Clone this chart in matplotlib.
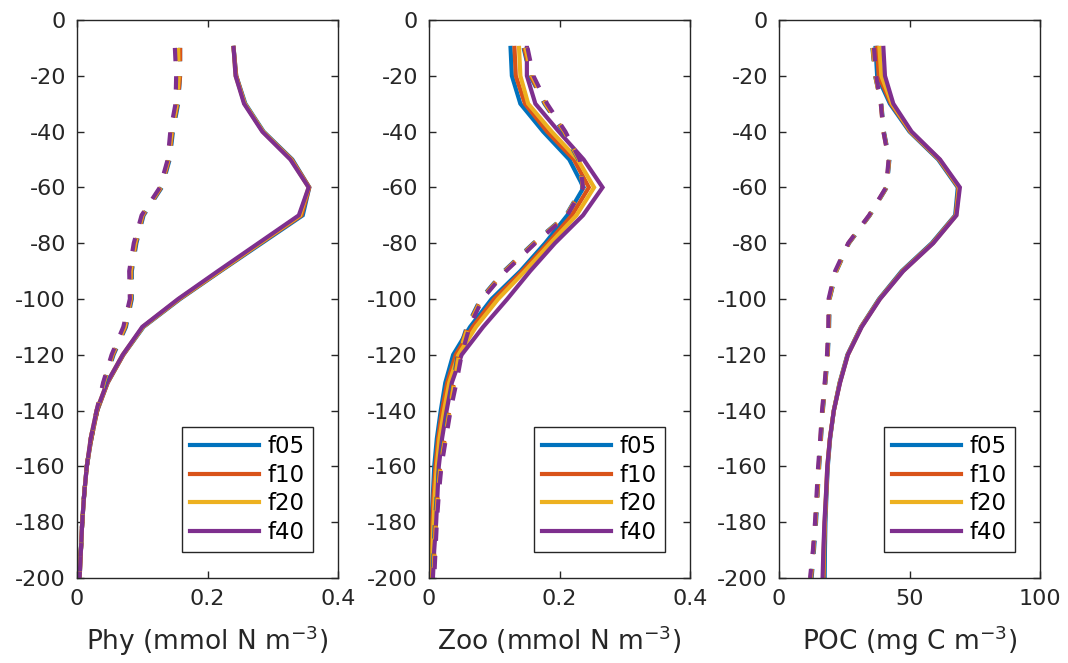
import matplotlib
matplotlib.use('Agg')
import matplotlib.pyplot as plt

plt.rcParams['font.family'] = ['DejaVu Sans']
plt.rcParams['axes.unicode_minus'] = False

depth = [-10, -20, -30, -40, -50, -60, -70, -80, -90, -100,
         -110, -120, -130, -140, -150, -160, -170, -180, -190, -200]
runs = ['f05', 'f10', 'f20', 'f40']
colors = ['#0072BD', '#D95319', '#EDB120', '#7E2F8E']

# Phy, solid
phy_f05 = [0.240, 0.244, 0.258, 0.286, 0.330, 0.356, 0.346, 0.283, 0.220, 0.158,
           0.102, 0.071, 0.047, 0.031, 0.022, 0.015, 0.011, 0.008, 0.006, 0.004]
phy_f10 = [0.240, 0.244, 0.257, 0.285, 0.329, 0.356, 0.344, 0.281, 0.219, 0.157,
           0.101, 0.071, 0.047, 0.031, 0.022, 0.015, 0.011, 0.008, 0.006, 0.004]
phy_f20 = [0.240, 0.243, 0.257, 0.285, 0.328, 0.355, 0.342, 0.280, 0.218, 0.156,
           0.101, 0.070, 0.046, 0.030, 0.021, 0.015, 0.011, 0.008, 0.006, 0.004]
phy_f40 = [0.240, 0.243, 0.256, 0.284, 0.327, 0.355, 0.340, 0.278, 0.216, 0.155,
           0.100, 0.070, 0.046, 0.030, 0.021, 0.015, 0.011, 0.008, 0.006, 0.004]
# Phy, dashed
phyd_f05 = [0.158, 0.158, 0.155, 0.147, 0.142, 0.130, 0.102, 0.091, 0.084, 0.084,
            0.075, 0.056, 0.042, 0.031, 0.022, 0.015, 0.011, 0.008, 0.006, 0.004]
phyd_f10 = [0.158, 0.158, 0.154, 0.146, 0.141, 0.129, 0.101, 0.090, 0.083, 0.083,
            0.074, 0.055, 0.041, 0.031, 0.022, 0.015, 0.011, 0.008, 0.006, 0.004]
phyd_f20 = [0.155, 0.156, 0.153, 0.145, 0.140, 0.128, 0.100, 0.089, 0.082, 0.082,
            0.073, 0.054, 0.041, 0.030, 0.021, 0.015, 0.011, 0.008, 0.006, 0.004]
phyd_f40 = [0.150, 0.152, 0.151, 0.143, 0.139, 0.127, 0.099, 0.087, 0.080, 0.081,
            0.071, 0.053, 0.040, 0.030, 0.021, 0.015, 0.011, 0.008, 0.006, 0.004]

# Zoo, solid
zoo_f05 = [0.125, 0.127, 0.140, 0.175, 0.215, 0.237, 0.212, 0.178, 0.140, 0.096,
           0.063, 0.037, 0.025, 0.018, 0.012, 0.008, 0.006, 0.004, 0.003, 0.003]
zoo_f10 = [0.131, 0.133, 0.147, 0.181, 0.222, 0.245, 0.219, 0.182, 0.143, 0.100,
           0.067, 0.041, 0.028, 0.020, 0.014, 0.010, 0.007, 0.005, 0.004, 0.004]
zoo_f20 = [0.138, 0.140, 0.152, 0.188, 0.228, 0.253, 0.226, 0.186, 0.147, 0.106,
           0.072, 0.045, 0.031, 0.023, 0.016, 0.012, 0.009, 0.007, 0.005, 0.005]
zoo_f40 = [0.150, 0.150, 0.163, 0.199, 0.237, 0.266, 0.236, 0.193, 0.155, 0.120,
           0.083, 0.050, 0.035, 0.027, 0.020, 0.015, 0.013, 0.011, 0.008, 0.006]
# Zoo, dashed
zood_f05 = [0.145, 0.155, 0.177, 0.206, 0.229, 0.235, 0.210, 0.160, 0.115, 0.079,
            0.058, 0.044, 0.037, 0.030, 0.023, 0.016, 0.012, 0.009, 0.007, 0.006]
zood_f10 = [0.146, 0.156, 0.178, 0.207, 0.230, 0.236, 0.211, 0.161, 0.116, 0.080,
            0.059, 0.045, 0.038, 0.031, 0.024, 0.017, 0.013, 0.010, 0.008, 0.007]
zood_f20 = [0.148, 0.158, 0.179, 0.208, 0.230, 0.236, 0.211, 0.162, 0.117, 0.081,
            0.060, 0.046, 0.039, 0.032, 0.025, 0.018, 0.014, 0.011, 0.009, 0.007]
zood_f40 = [0.151, 0.160, 0.181, 0.209, 0.231, 0.236, 0.212, 0.163, 0.118, 0.082,
            0.062, 0.050, 0.042, 0.033, 0.026, 0.019, 0.015, 0.012, 0.010, 0.008]

# POC, solid
poc_f05 = [37.0, 37.6, 42.5, 50.0, 61.0, 68.5, 67.5, 58.5, 47.0, 38.3,
           31.4, 26.2, 23.2, 21.0, 19.6, 18.7, 18.2, 17.8, 17.6, 17.5]
poc_f10 = [37.5, 38.2, 42.9, 50.3, 61.3, 68.8, 67.7, 58.8, 47.3, 38.5,
           31.5, 26.3, 23.3, 21.0, 19.5, 18.6, 18.1, 17.6, 17.3, 17.1]
poc_f20 = [38.5, 39.2, 43.3, 50.5, 61.5, 69.0, 67.9, 59.0, 47.5, 38.6,
           31.6, 26.4, 23.3, 21.0, 19.5, 18.5, 18.0, 17.5, 17.1, 16.9]
poc_f40 = [40.0, 40.6, 43.8, 50.8, 61.7, 69.3, 68.0, 59.1, 47.6, 38.7,
           31.7, 26.4, 23.4, 21.0, 19.5, 18.5, 18.0, 17.4, 17.0, 16.7]
# POC, dashed
pocd_f05 = [35.8, 36.8, 39.2, 40.2, 42.3, 41.3, 34.8, 26.8, 22.0, 19.4,
            19.2, 18.7, 17.8, 16.8, 16.1, 15.4, 14.8, 14.2, 13.4, 12.5]
pocd_f10 = [35.9, 36.9, 39.1, 40.1, 42.2, 41.2, 34.7, 26.7, 21.9, 19.3,
            19.1, 18.6, 17.7, 16.7, 16.0, 15.3, 14.7, 14.0, 13.2, 12.3]
pocd_f20 = [36.0, 37.0, 39.0, 40.0, 42.1, 41.1, 34.6, 26.6, 21.8, 19.2,
            19.0, 18.5, 17.6, 16.6, 15.9, 15.2, 14.6, 13.9, 13.1, 12.1]
pocd_f40 = [36.4, 37.2, 39.0, 40.0, 42.0, 41.0, 34.5, 26.5, 21.5, 19.0,
            18.9, 18.4, 17.5, 16.5, 15.8, 15.0, 14.4, 13.8, 13.0, 11.9]

panels = [
    ([phy_f05, phy_f10, phy_f20, phy_f40], [phyd_f05, phyd_f10, phyd_f20, phyd_f40],
     (0, 0.4), [0, 0.2, 0.4], 'Phy (mmol N m$^{-3}$)'),
    ([zoo_f05, zoo_f10, zoo_f20, zoo_f40], [zood_f05, zood_f10, zood_f20, zood_f40],
     (0, 0.4), [0, 0.2, 0.4], 'Zoo (mmol N m$^{-3}$)'),
    ([poc_f05, poc_f10, poc_f20, poc_f40], [pocd_f05, pocd_f10, pocd_f20, pocd_f40],
     (0, 100), [0, 50, 100], 'POC (mg C m$^{-3}$)'),
]

fig = plt.figure(figsize=(10.68, 6.63), dpi=100)
lefts = [77, 429, 779]
dark = '#262626'

for left, (solid, dashed, xlim, xticks, xlabel) in zip(lefts, panels):
    ax = fig.add_axes([left / 1068, 1 - 578 / 663, 261 / 1068, 558 / 663])
    handles = []
    for vals, c in zip(solid, colors):
        h, = ax.plot(vals, depth, color=c, lw=3.0, solid_joinstyle='miter')
        handles.append(h)
    for vals, c in zip(dashed, colors):
        ax.plot(vals, depth, color=c, lw=3.0, linestyle=(0, (3.2, 3.6)),
                dash_capstyle='butt')
    ax.set_xlim(xlim)
    ax.set_ylim(-200, 0)
    ax.set_xticks(xticks)
    ax.set_xticklabels([('%g' % t) for t in xticks])
    ax.set_yticks(range(-200, 1, 20))
    ax.tick_params(direction='in', top=True, right=True, length=5, width=1,
                   labelsize=16, colors=dark, pad=8)
    for s in ax.spines.values():
        s.set_color(dark)
        s.set_linewidth(1)
    ax.set_xlabel(xlabel, fontsize=19, color=dark, labelpad=10)
    leg = ax.legend(handles, runs, loc='lower right', bbox_to_anchor=(0.904, 0.047),
                    borderaxespad=0, fontsize=16.5, fancybox=False, framealpha=1,
                    edgecolor=dark, handlelength=3.0, labelspacing=0.24,
                    handletextpad=0.4, borderpad=0.35)
    leg.get_frame().set_linewidth(1)

fig.savefig('out.png', dpi=100)
